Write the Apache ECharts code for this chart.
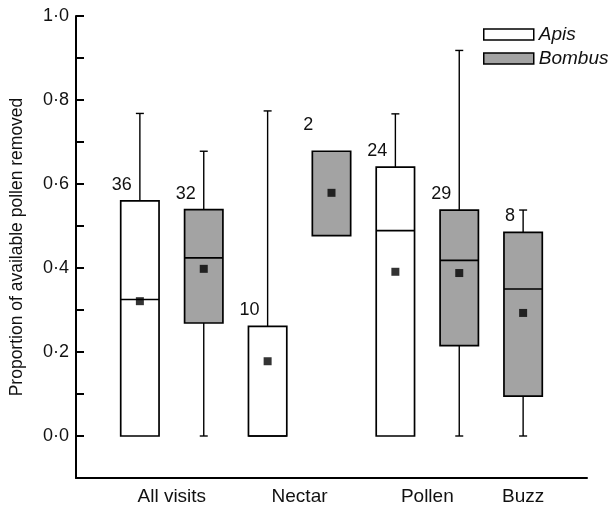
<!DOCTYPE html>
<html>
<head>
<meta charset="utf-8">
<script src="https://cdn.jsdelivr.net/npm/echarts@6/dist/echarts.min.js"></script>
<style>
html,body{margin:0;padding:0;background:#fff;}
#chart{width:610px;height:506px;}
</style>
</head>
<body>
<div id="chart"></div>
<script>
// ---- data ----
const categories = ['All visits', 'Nectar', 'Pollen', 'Buzz'];
const seriesNames = ['Apis', 'Bombus'];

const apisN      = [36, 10, 24, null];
const apisLow    = [0, 0, 0, null];
const apisQ1     = [0, 0, 0, null];
const apisMedian = [0.325, 0, 0.489, null];
const apisQ3     = [0.560, 0.261, 0.640, null];
const apisHigh   = [0.768, 0.774, 0.767, null];
const apisMean   = [0.321, 0.178, 0.391, null];

const bombusN      = [32, 2, 29, 8];
const bombusLow    = [0, null, 0, 0];
const bombusQ1     = [0.269, 0.477, 0.215, 0.095];
const bombusMedian = [0.424, null, 0.418, 0.350];
const bombusQ3     = [0.539, 0.678, 0.538, 0.485];
const bombusHigh   = [0.678, null, 0.918, 0.538];
const bombusMean   = [0.398, 0.579, 0.388, 0.293];

const yTickLabels = ['0·0', '0·2', '0·4', '0·6', '0·8', '1·0'];

// ---- build series data: each present box gets the next slot on the x axis ----
const groups = [
  {n: apisN, low: apisLow, q1: apisQ1, med: apisMedian, q3: apisQ3, high: apisHigh, mean: apisMean},
  {n: bombusN, low: bombusLow, q1: bombusQ1, med: bombusMedian, q3: bombusQ3, high: bombusHigh, mean: bombusMean}
];
const rows = [[], []];
const catCenters = [];
let slot = 1;
categories.forEach((c, i) => {
  const used = [];
  groups.forEach((g, s) => {
    if (g.q3[i] == null) return;
    rows[s].push({x: slot, n: g.n[i], low: g.low[i], q1: g.q1[i], med: g.med[i], q3: g.q3[i], high: g.high[i], mean: g.mean[i]});
    used.push(slot);
    slot++;
  });
  catCenters.push(used.reduce((a, b) => a + b, 0) / used.length);
});
const xMax = slot;

const FONT = '"Liberation Sans", Arial, Helvetica, sans-serif';
const GREY = '#a3a3a3';
const fills = ['#ffffff', GREY];

function makeRender(s) {
  return function (params, api) {
    const r = rows[s][params.dataIndex];
    const hw = api.size([0.6, 0])[0] / 2;
    const cx = api.coord([r.x, 0])[0];
    const y = v => api.coord([r.x, v])[1];
    const yQ1 = y(r.q1), yQ3 = y(r.q3);
    const ls = {stroke: '#000', lineWidth: 1.4};
    const children = [];
    if (r.high != null && r.high > r.q3) {
      const yH = y(r.high);
      children.push({type: 'line', shape: {x1: cx, y1: yH, x2: cx, y2: yQ3}, style: ls});
      children.push({type: 'line', shape: {x1: cx - 4, y1: yH, x2: cx + 4, y2: yH}, style: ls});
    }
    if (r.low != null && r.low < r.q1) {
      const yL = y(r.low);
      children.push({type: 'line', shape: {x1: cx, y1: yQ1, x2: cx, y2: yL}, style: ls});
      children.push({type: 'line', shape: {x1: cx - 4, y1: yL, x2: cx + 4, y2: yL}, style: ls});
    }
    children.push({type: 'rect', shape: {x: cx - hw, y: yQ3, width: 2 * hw, height: yQ1 - yQ3},
      style: {fill: fills[s], stroke: '#000', lineWidth: 1.7}});
    if (r.med != null) {
      const yM = y(r.med);
      children.push({type: 'line', shape: {x1: cx - hw, y1: yM, x2: cx + hw, y2: yM}, style: {stroke: '#000', lineWidth: 1.7}});
    }
    const hasWhisker = r.high != null;
    children.push({type: 'text', style: {
      text: String(r.n),
      x: hasWhisker ? cx - 8 : cx - hw + 1,
      y: hasWhisker ? yQ3 - 16 : yQ3 - 26,
      align: 'right', verticalAlign: 'middle',
      font: '18px ' + FONT, fill: '#111'
    }});
    return {type: 'group', children: children};
  };
}

const series = seriesNames.map((name, s) => ({
  name: name,
  type: 'custom',
  renderItem: makeRender(s),
  itemStyle: {color: fills[s], borderColor: '#000', borderWidth: 1.5},
  encode: {x: 0, y: [1, 2, 3, 4, 5]},
  data: rows[s].map(r => [r.x, r.low == null ? r.q1 : r.low, r.q1, r.med == null ? r.q3 : r.med, r.q3, r.high == null ? r.q3 : r.high]),
  z: 2
}));
series.push({
  name: 'Mean',
  type: 'scatter',
  symbol: 'rect',
  symbolSize: 8,
  itemStyle: {color: '#000'},
  data: rows[0].concat(rows[1]).map(r => [r.x, r.mean]),
  z: 5,
  silent: true
});

const chart = echarts.init(document.getElementById('chart'), null, {renderer: 'canvas'});
chart.setOption({
  animation: false,
  backgroundColor: '#fff',
  textStyle: {fontFamily: FONT},
  grid: {left: 75, right: 23, top: 16, bottom: 28, containLabel: false},
  legend: {
    orient: 'vertical',
    left: 483, top: 24, padding: 0,
    itemWidth: 50, itemHeight: 11, itemGap: 3,
    textStyle: {fontSize: 19, lineHeight: 21, fontStyle: 'italic', color: '#111', fontFamily: FONT},
    data: [
      {name: 'Apis', icon: 'rect', itemStyle: {color: '#fff', borderColor: '#000', borderWidth: 1.5}},
      {name: 'Bombus', icon: 'rect', itemStyle: {color: GREY, borderColor: '#000', borderWidth: 1.5}}
    ]
  },
  xAxis: {
    type: 'value', min: 0, max: xMax,
    splitLine: {show: false},
    axisTick: {show: false},
    axisLine: {show: true, onZero: false, lineStyle: {color: '#000', width: 2}},
    axisLabel: {
      customValues: catCenters,
      margin: 9,
      fontSize: 19, color: '#111', fontFamily: FONT,
      formatter: v => {
        const i = catCenters.findIndex(c => Math.abs(c - v) < 1e-6);
        return i >= 0 ? categories[i] : '';
      }
    }
  },
  yAxis: {
    type: 'value', min: -0.1, max: 1.0, interval: 0.1,
    name: 'Proportion of available pollen removed',
    nameLocation: 'middle', nameRotate: 90, nameGap: 50,
    nameTextStyle: {fontSize: 17.5, color: '#111', fontFamily: FONT},
    splitLine: {show: false},
    axisLine: {show: true, onZero: false, lineStyle: {color: '#000', width: 2}},
    axisTick: {show: true, inside: true, length: 8, lineStyle: {color: '#000', width: 2}},
    axisLabel: {
      margin: 7, fontSize: 18, color: '#111', fontFamily: FONT,
      formatter: v => {
        const k = Math.round(v * 10);
        if (k < 0 || k % 2 !== 0) return '';
        return yTickLabels[k / 2];
      }
    }
  },
  series: series
});
</script>
</body>
</html>
